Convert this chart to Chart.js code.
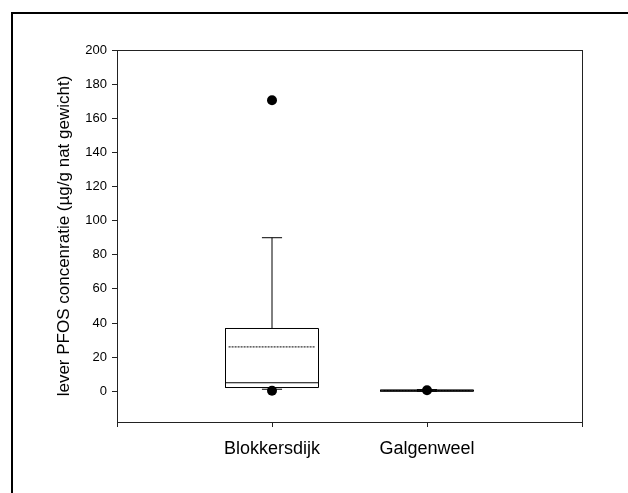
<!DOCTYPE html>
<html lang="nl">
<head>
  <meta charset="UTF-8">
  <title>lever PFOS concentratie</title>
  <script src="https://cdn.jsdelivr.net/npm/chart.js"></script>
  <style>
    body {
      margin: 0;
      background-color: white;
      width: 628px;
      height: 493px;
      overflow: hidden;
      position: relative;
    }

    #kader {
      position: absolute;
      left: 11px;
      top: 12px;
      width: 700px;
      height: 600px;
      border: 2px solid black;
    }

    canvas {
      position: absolute;
      left: 0;
      top: 0;
    }
  </style>
  <script>
    // waarden
    const categorieen = ["Blokkersdijk", "Galgenweel"];
    const xPosities = [1, 2];
    const snorLaag = [1.2, 0.0];
    const kwartiel1 = [2.2, 0.0];
    const mediaan = [5.0, 0.3];
    const kwartiel3 = [36.8, 0.8];
    const snorHoog = [90.0, 1.0];
    const gemiddelde = [26.0, 0.4];
    const uitschieters = [[170.5, 0.3], [0.6]];

    const xTickWaarden = [0, 1, 2, 3];
    const xTickLabels = ["", "Blokkersdijk", "Galgenweel", ""];
    const yTickWaarden = [0, 20, 40, 60, 80, 100, 120, 140, 160, 180, 200];

    const halveBox = 0.3;
    const halveKap = 0.065;

    function lijn(punten, extra) {
      return Object.assign({
        data: punten,
        showLine: true,
        borderColor: "black",
        borderWidth: 1,
        pointRadius: 0,
        fill: false
      }, extra || {});
    }

    window.onload = () => {
      const datasets = [];

      categorieen.forEach((naam, i) => {
        const x = xPosities[i];
        // snorren
        datasets.push(lijn([{ x: x, y: kwartiel3[i] }, { x: x, y: snorHoog[i] }]));
        datasets.push(lijn([{ x: x - halveKap, y: snorHoog[i] }, { x: x + halveKap, y: snorHoog[i] }]));
        datasets.push(lijn([{ x: x, y: kwartiel1[i] }, { x: x, y: snorLaag[i] }]));
        datasets.push(lijn([{ x: x - halveKap, y: snorLaag[i] }, { x: x + halveKap, y: snorLaag[i] }]));
        // box
        datasets.push(lijn([
          { x: x - halveBox, y: kwartiel1[i] },
          { x: x + halveBox, y: kwartiel1[i] },
          { x: x + halveBox, y: kwartiel3[i] },
          { x: x - halveBox, y: kwartiel3[i] },
          { x: x - halveBox, y: kwartiel1[i] }
        ]));
        // mediaan
        datasets.push(lijn([{ x: x - halveBox, y: mediaan[i] }, { x: x + halveBox, y: mediaan[i] }]));
        // gemiddelde (gestippeld)
        datasets.push(lijn([{ x: x - halveBox + 0.02, y: gemiddelde[i] }, { x: x + halveBox - 0.02, y: gemiddelde[i] }],
          { borderDash: [2, 1] }));
        // uitschieters
        datasets.push({
          data: uitschieters[i].map(v => ({ x: x, y: v })),
          showLine: false,
          pointRadius: 5,
          pointBackgroundColor: "black",
          pointBorderColor: "black",
          pointBorderWidth: 0
        });
      });

      new Chart(document.getElementById("grafiek"), {
        type: "scatter",
        data: { datasets: datasets },
        options: {
          responsive: false,
          animation: false,
          layout: { padding: { left: 0, top: 50, right: 46, bottom: 0 } },
          plugins: {
            legend: { display: false },
            tooltip: { enabled: false }
          },
          scales: {
            x: {
              type: "linear",
              min: 0,
              max: 3,
              afterBuildTicks: s => { s.ticks = xTickWaarden.map(v => ({ value: v })); },
              afterFit: s => { s.height = 71; },
              border: { display: true, color: "#222", width: 1 },
              grid: {
                drawOnChartArea: true,
                color: ctx => (ctx.tick && ctx.tick.value === 3) ? "#222" : "rgba(0,0,0,0)",
                tickColor: "#222",
                tickLength: 5
              },
              ticks: {
                autoSkip: false,
                maxRotation: 0,
                padding: 11,
                color: "black",
                font: { family: "'Liberation Sans', Arial, sans-serif", size: 18 },
                callback: v => xTickLabels[v] || ""
              }
            },
            y: {
              type: "linear",
              min: -18,
              max: 200,
              afterBuildTicks: s => { s.ticks = yTickWaarden.map(v => ({ value: v })); },
              afterFit: s => { s.width = 117; },
              border: { display: true, color: "#222", width: 1 },
              grid: {
                drawOnChartArea: true,
                color: ctx => (ctx.tick && ctx.tick.value === 200) ? "#222" : "rgba(0,0,0,0)",
                tickColor: "#222",
                tickLength: 5
              },
              ticks: {
                padding: 5,
                color: "black",
                font: { family: "'Liberation Sans', Arial, sans-serif", size: 13 },
                callback: v => String(v)
              },
              title: {
                display: true,
                text: "lever PFOS concenratie (µg/g nat gewicht)",
                color: "black",
                padding: { top: 54, bottom: 0 },
                font: { family: "'Liberation Sans', Arial, sans-serif", size: 17 }
              }
            }
          }
        }
      });
    };
  </script>
</head>
<body>
  <div id="kader"></div>
  <canvas id="grafiek" width="628" height="493"></canvas>
</body>
</html>
